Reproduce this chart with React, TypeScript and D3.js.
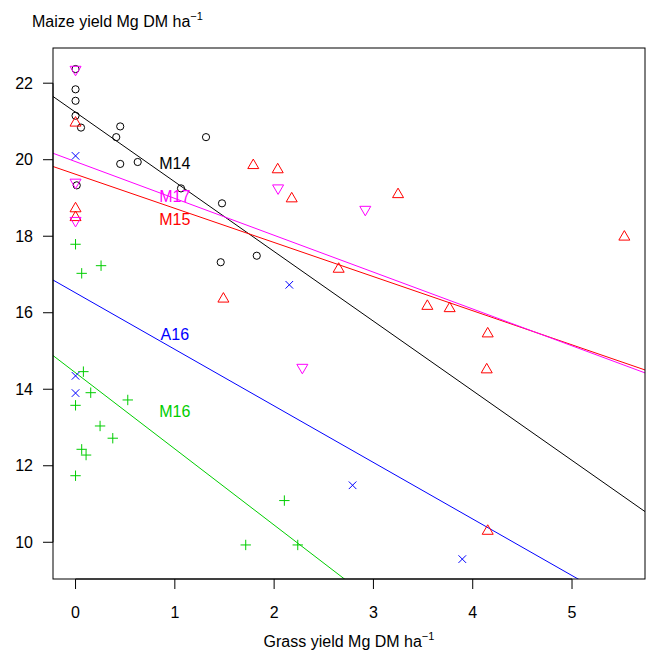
import * as d3 from 'd3';

// grass yield (x) and maize yield (y), Mg DM / ha
const m14Grass = [0, 0, 0, 0, 0.055, 0.45, 0.41, 1.314, 0.45, 0.626, 1.062, 1.475, 0.012, 1.462, 1.825];
const m14Maize = [22.37, 21.84, 21.54, 21.15, 20.84, 20.87, 20.59, 20.59, 19.89, 19.94, 19.25, 18.86, 19.33, 17.32, 17.49];

const m15Grass = [0, 0, 0, 1.79, 2.036, 2.177, 3.248, 5.527, 2.65, 3.543, 3.768, 4.151, 4.141, 1.489, 4.151];
const m15Maize = [20.97, 18.73, 18.5, 19.86, 19.75, 18.99, 19.1, 17.99, 17.15, 16.18, 16.12, 15.46, 14.52, 16.37, 10.3];

const m16Grass = [0, 0.062, 0.257, 0.079, 0.153, 0.526, 0, 0.247, 0.375, 0.062, 0.106, 0, 2.103, 1.714, 2.238];
const m16Maize = [17.79, 17.03, 17.23, 14.46, 13.91, 13.72, 13.58, 13.04, 12.72, 12.43, 12.28, 11.74, 11.09, 9.93, 9.93];

const a16Grass = [0, 2.153, 0, 0, 2.79, 3.895];
const a16Maize = [20.1, 16.73, 14.35, 13.9, 11.49, 9.56];

const m17Grass = [0, 0, 0, 2.04, 2.918, 2.284];
const m17Maize = [22.35, 19.4, 18.4, 19.25, 18.69, 14.56];

// fitted lines (intercept, slope) and label y for each group
const groupNames = ['M14', 'M15', 'M16', 'A16', 'M17'];
const intercepts = [21.24, 19.62, 14.43, 16.52, 19.95];
const slopes = [-1.82, -0.892, -1.99, -1.478, -0.963];
const labelY = [19.89, 18.43, 13.41, 15.42, 19.03];
const labelX = 1;

const xTicks = [0, 1, 2, 3, 4, 5];
const yTicks = [10, 12, 14, 16, 18, 20, 22];

const COLORS = ['#000000', '#FF0000', '#00CD00', '#0000FF', '#FF00FF'];
const SHAPES = ['circle', 'triUp', 'plus', 'cross', 'triDown'];
const FONT = '"Liberation Sans", Arial, Helvetica, sans-serif';

const W = 646,
  H = 659;
const PLOT = { left: 53, right: 645, top: 48, bottom: 579 };

const Marker = ({ shape, cx, cy, color }) => {
  const common = { fill: 'none', stroke: color, strokeWidth: 1 };
  if (shape === 'circle') return <circle cx={cx} cy={cy} r={3.6} {...common} />;
  if (shape === 'triUp')
    return <path d={`M${cx},${cy - 6}L${cx + 5.5},${cy + 3.5}L${cx - 5.5},${cy + 3.5}Z`} {...common} />;
  if (shape === 'triDown')
    return <path d={`M${cx},${cy + 6}L${cx + 5.5},${cy - 3.5}L${cx - 5.5},${cy - 3.5}Z`} {...common} />;
  if (shape === 'plus')
    return <path d={`M${cx - 5.2},${cy}H${cx + 5.2}M${cx},${cy - 5.2}V${cy + 5.2}`} {...common} />;
  return (
    <path
      d={`M${cx - 3.8},${cy - 3.8}L${cx + 3.8},${cy + 3.8}M${cx - 3.8},${cy + 3.8}L${cx + 3.8},${cy - 3.8}`}
      {...common}
    />
  );
};

export default function App() {
  const x = d3.scaleLinear().domain([-0.227, 5.735]).range([PLOT.left, PLOT.right]);
  const y = d3.scaleLinear().domain([9.04, 22.92]).range([PLOT.bottom, PLOT.top]);

  const series = [
    [m14Grass, m14Maize],
    [m15Grass, m15Maize],
    [m16Grass, m16Maize],
    [a16Grass, a16Maize],
    [m17Grass, m17Maize],
  ];

  const [x0, x1] = x.domain();
  const line = d3
    .line<[number, number]>()
    .x((d) => x(d[0]))
    .y((d) => y(d[1]));

  return (
    <div style={{ position: 'absolute', left: 0, top: 0 }}>
      <svg width={W} height={H} style={{ display: 'block', fontFamily: FONT }}>
        <rect width={W} height={H} fill="white" />
        <defs>
          <clipPath id="plotclip">
            <rect x={PLOT.left} y={PLOT.top} width={PLOT.right - PLOT.left} height={PLOT.bottom - PLOT.top} />
          </clipPath>
        </defs>

        {/* regression lines */}
        <g clipPath="url(#plotclip)">
          {groupNames.map((g, i) => (
            <path
              key={g}
              d={line([
                [x0, intercepts[i] + slopes[i] * x0],
                [x1, intercepts[i] + slopes[i] * x1],
              ])}
              stroke={COLORS[i]}
              strokeWidth={1}
              fill="none"
            />
          ))}
        </g>

        {/* points */}
        {series.map(([gx, gy], i) =>
          gx.map((v, j) => (
            <Marker key={`${i}-${j}`} shape={SHAPES[i]} cx={x(v)} cy={y(gy[j])} color={COLORS[i]} />
          ))
        )}

        {/* group labels */}
        {groupNames.map((g, i) => (
          <text
            key={g}
            x={x(labelX)}
            y={y(labelY[i])}
            textAnchor="middle"
            dominantBaseline="central"
            fontSize={16}
            fill={COLORS[i]}
          >
            {g}
          </text>
        ))}

        {/* box */}
        <rect
          x={PLOT.left}
          y={PLOT.top}
          width={PLOT.right - PLOT.left}
          height={PLOT.bottom - PLOT.top}
          fill="none"
          stroke="black"
        />

        {/* x axis */}
        <line x1={x(0)} x2={x(5)} y1={PLOT.bottom} y2={PLOT.bottom} stroke="black" />
        {xTicks.map((t) => (
          <g key={t}>
            <line x1={x(t)} x2={x(t)} y1={PLOT.bottom} y2={PLOT.bottom + 10} stroke="black" />
            <text x={x(t)} y={618} textAnchor="middle" fontSize={16}>
              {t}
            </text>
          </g>
        ))}

        {/* y axis */}
        <line x1={PLOT.left} x2={PLOT.left} y1={y(10)} y2={y(22)} stroke="black" />
        {yTicks.map((t) => (
          <g key={t}>
            <line x1={PLOT.left - 10} x2={PLOT.left} y1={y(t)} y2={y(t)} stroke="black" />
            <text x={33} y={y(t)} textAnchor="end" dominantBaseline="central" fontSize={16}>
              {t}
            </text>
          </g>
        ))}

        {/* axis titles */}
        <text x={32} y={27} fontSize={16}>
          Maize yield Mg DM ha
          <tspan fontSize={11} dy={-7}>
            −1
          </tspan>
        </text>
        <text x={(PLOT.left + PLOT.right) / 2} y={647} textAnchor="middle" fontSize={16}>
          Grass yield Mg DM ha
          <tspan fontSize={11} dy={-7}>
            −1
          </tspan>
        </text>
      </svg>
    </div>
  );
}
